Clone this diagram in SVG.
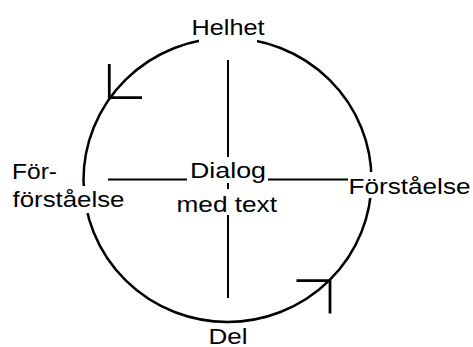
<svg xmlns="http://www.w3.org/2000/svg" width="473" height="347" viewBox="0 0 473 347">
<style>
.ln{stroke:#000;fill:none;stroke-linecap:butt}
.bg{fill:#fff;stroke:none}
.t{font-family:"Liberation Sans",Arial,sans-serif;font-size:22.5px;fill:#000}
</style>
<rect width="473" height="347" fill="#fff"/>
<g id="connectors">
<ellipse class="ln" cx="227.5" cy="180" rx="144" ry="142" stroke-width="2.5"/>
<line class="ln" x1="228" y1="60" x2="228" y2="298" stroke-width="2"/>
<line class="ln" x1="108" y1="179.5" x2="348" y2="179.5" stroke-width="2"/>
<polyline class="ln" points="109.3,64 109.3,97.7 142,97.7" stroke-width="2.8"/>
<polyline class="ln" points="296.5,280.7 330,280.7 330,313.5" stroke-width="2.8"/>
</g>
<g id="helhet">
<rect class="bg" x="199" y="17" width="58" height="26"/>
<text class="t" x="191.5" y="35" textLength="73" lengthAdjust="spacingAndGlyphs">Helhet</text>
</g>
<g id="dialog">
<rect class="bg" x="187" y="157" width="81" height="26"/>
<rect class="bg" x="176" y="189" width="102" height="26"/>
<text class="t" x="190" y="177.5" textLength="76" lengthAdjust="spacingAndGlyphs">Dialog</text>
<text class="t" x="176.5" y="211.5" textLength="100.5" lengthAdjust="spacingAndGlyphs">med text</text>
</g>
<g id="forforstaelse">
<rect class="bg" x="11" y="186" width="116" height="27"/>
<text class="t" x="12" y="179" textLength="45" lengthAdjust="spacingAndGlyphs">För-</text>
<text class="t" x="12.5" y="207" textLength="112" lengthAdjust="spacingAndGlyphs">förståelse</text>
</g>
<g id="forstaelse">
<rect class="bg" x="349" y="172" width="124" height="26"/>
<text class="t" x="348.5" y="194.3" textLength="122" lengthAdjust="spacingAndGlyphs">Förståelse</text>
</g>
<g id="del">
<text class="t" x="208.5" y="343.5" textLength="39" lengthAdjust="spacingAndGlyphs">Del</text>
</g>
</svg>
